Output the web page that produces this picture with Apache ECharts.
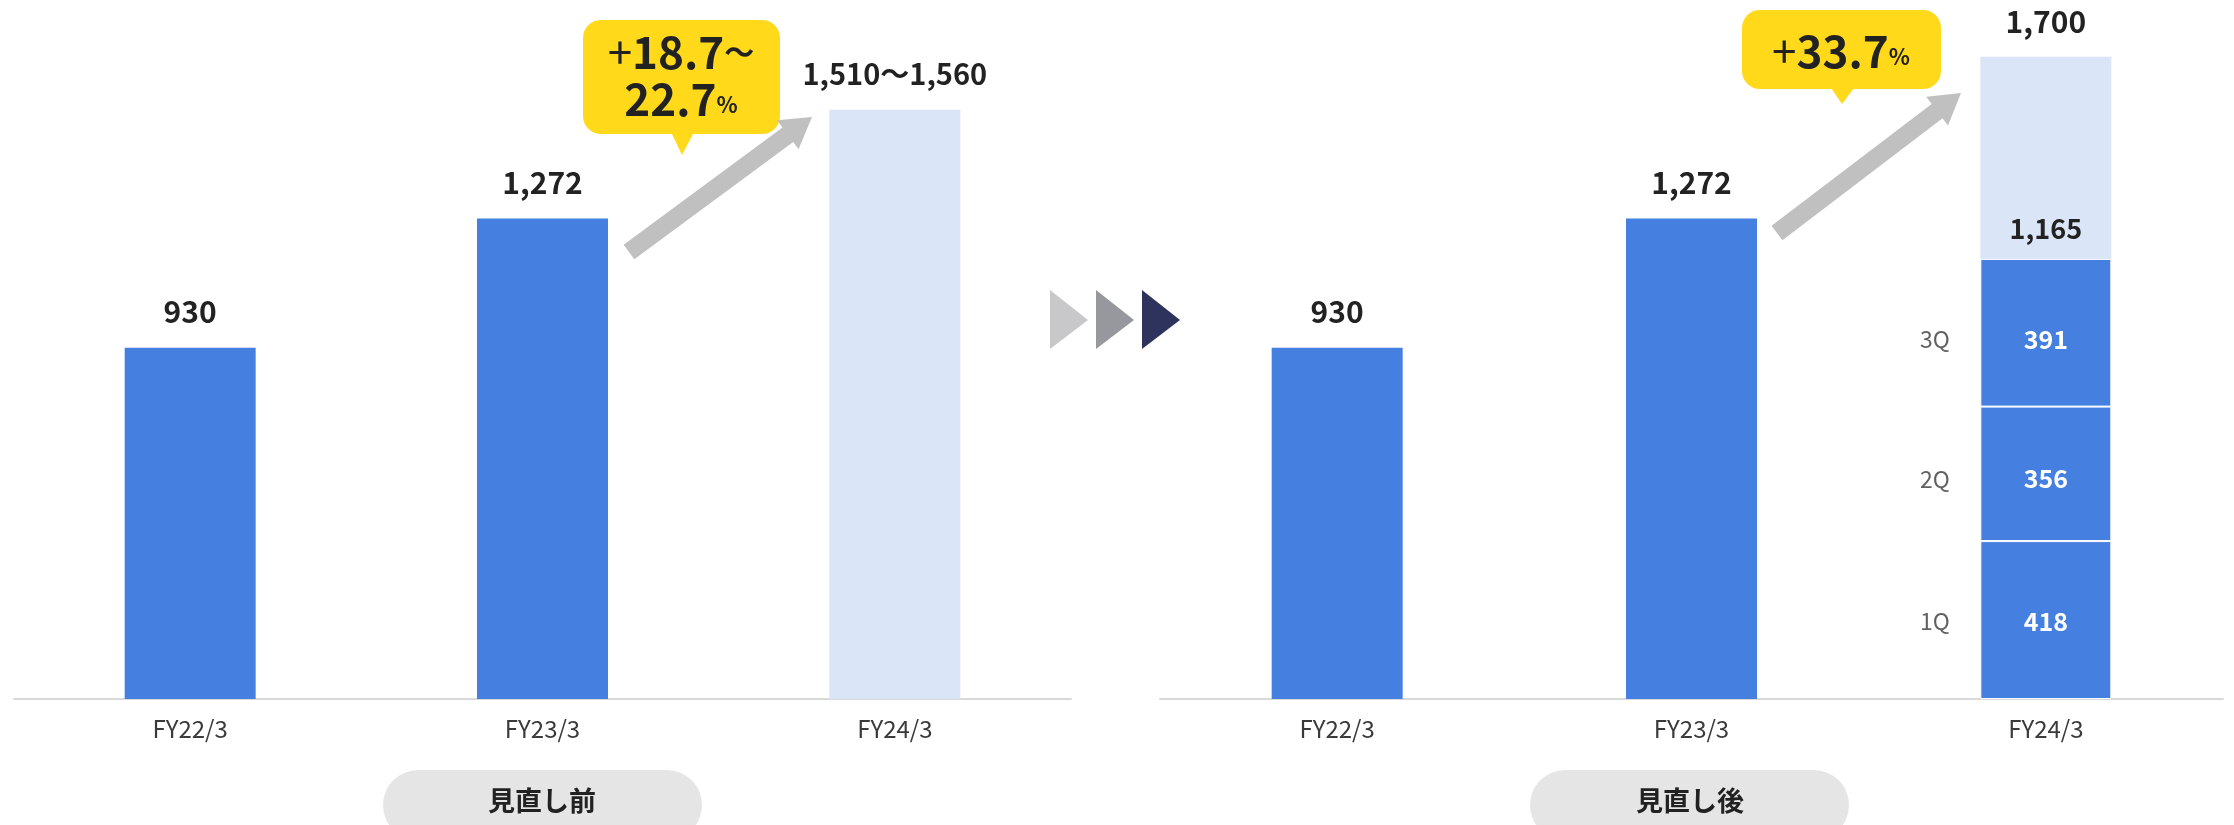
<!DOCTYPE html>
<html>
<head>
<meta charset="utf-8">
<script src="https://cdn.jsdelivr.net/npm/echarts@6/dist/echarts.min.js"></script>
<style>
html,body{margin:0;padding:0;background:#fff;}
#c{width:2234px;height:825px;}
</style>
</head>
<body>
<div id="c"></div>
<script>
// ---- data ----
const categories = ['FY22/3', 'FY23/3', 'FY24/3'];
const beforeActual = [930, 1272];
const beforeForecastLow = 1510;
const beforeForecastHigh = 1560;
const afterActual = [930, 1272];
const quarterNames = ['1Q', '2Q', '3Q'];
const quarterValues = [418, 356, 391];
const afterForecastTotal = 1700;
const growthBefore = ['+18.7', '22.7'];
const growthAfter = '+33.7';
const panelTitles = ['見直し前', '見直し後'];

const FONT = '"Noto Sans CJK JP", "Noto Sans", sans-serif';
const BLUE = '#457FE0';
const LIGHT = '#DAE5F7';
const fmt = v => v.toLocaleString('en-US');

const quarterSum = quarterValues.reduce((a, b) => a + b, 0);
const remainder = afterForecastTotal - quarterSum;

const chart = echarts.init(document.getElementById('c'), null, {renderer: 'canvas'});

const valueLabel = {
  show: true, position: 'top', distance: 21,
  fontFamily: FONT, fontSize: 30, fontWeight: 'bold', color: '#222'
};

function xAxis(idx) {
  return {
    type: 'category', gridIndex: idx, data: categories,
    axisLine: {lineStyle: {color: '#D9D9D9', width: 2}},
    axisTick: {show: false},
    axisLabel: {fontFamily: FONT, fontSize: 24, color: '#3a3a3a', margin: 18}
  };
}
function yAxis(idx) {
  return {type: 'value', gridIndex: idx, min: 0, max: 1800, show: false, splitLine: {show: false}};
}
const pad = n => Array(n).fill('-');

// cumulative centers for quarter labels
let cum = 0;
const qCenters = quarterValues.map(v => { const c = cum + v / 2; cum += v; return c; });
const qOffsetY = [1, 5, 7];

const series = [
  // left panel
  {type: 'bar', xAxisIndex: 0, yAxisIndex: 0, stack: 'L', barWidth: 131,
   data: beforeActual.concat(pad(1)), itemStyle: {color: BLUE},
   label: Object.assign({}, valueLabel, {formatter: p => fmt(p.value)})},
  {type: 'bar', xAxisIndex: 0, yAxisIndex: 0, stack: 'L', barWidth: 131,
   data: pad(2).concat([beforeForecastHigh]), itemStyle: {color: LIGHT},
   label: Object.assign({}, valueLabel, {fontSize: 29, distance: 21, formatter: () => fmt(beforeForecastLow) + '～' + fmt(beforeForecastHigh)})},
  // right panel
  {type: 'bar', xAxisIndex: 1, yAxisIndex: 1, stack: 'R', barWidth: 131,
   data: afterActual.concat(pad(1)), itemStyle: {color: BLUE},
   label: Object.assign({}, valueLabel, {formatter: p => fmt(p.value)})}
];
quarterValues.forEach((v, i) => {
  series.push({
    type: 'bar', xAxisIndex: 1, yAxisIndex: 1, stack: 'R', barWidth: 131,
    data: pad(2).concat([v]),
    itemStyle: {color: BLUE, borderColor: '#fff', borderWidth: 1},
    label: {show: true, position: 'inside', offset: [0, qOffsetY[i]], fontFamily: FONT, fontSize: 25, fontWeight: 'bold', color: '#fff',
            formatter: p => fmt(p.value)}
  });
});
series.push({
  type: 'bar', xAxisIndex: 1, yAxisIndex: 1, stack: 'R', barWidth: 131,
  data: pad(2).concat([0]), itemStyle: {color: LIGHT, borderWidth: 0},
  label: {show: true, position: 'top', distance: 17, fontFamily: FONT, fontSize: 27, fontWeight: 'bold', color: '#222',
          formatter: () => fmt(quarterSum)}
});
series.push({
  type: 'bar', xAxisIndex: 1, yAxisIndex: 1, stack: 'R', barWidth: 131,
  data: pad(2).concat([remainder]), itemStyle: {color: LIGHT},
  label: Object.assign({}, valueLabel, {distance: 20, formatter: () => fmt(afterForecastTotal)})
});
series.push({
  type: 'scatter', xAxisIndex: 1, yAxisIndex: 1, symbolSize: 0, silent: true,
  data: qCenters.map((c, i) => ({value: [2, c], name: quarterNames[i]})),
  label: {show: true, position: 'inside', fontFamily: FONT, fontSize: 23, color: '#3a3a3a',
          formatter: p => p.name},
  labelLayout: p => ({dx: -111, dy: qOffsetY[p.dataIndex]})
});

function arrow(tx, ty, hx, hy, fill) {
  const dx = hx - tx, dy = hy - ty, len = Math.hypot(dx, dy);
  const ux = dx / len, uy = dy / len, px = -uy, py = ux;
  const w = 9, L = 30, hw = 18;
  const bx = hx - ux * L, by = hy - uy * L;
  return {
    type: 'polygon', z: 10,
    shape: {points: [
      [tx + px * w, ty + py * w], [bx + px * w, by + py * w], [bx + px * hw, by + py * hw],
      [hx, hy], [bx - px * hw, by - py * hw], [bx - px * w, by - py * w], [tx - px * w, ty - py * w]
    ]},
    style: {fill: fill}
  };
}

const richBig = {fontFamily: FONT, fontSize: 44, fontWeight: 'bold', fill: '#222'};
const richPct = {fontFamily: FONT, fontSize: 22, fontWeight: 'bold', fill: '#222', padding: [12, 0, 0, 0]};
const richPlus = {fontFamily: FONT, fontSize: 44, fontWeight: 'normal', fill: '#222'};

const graphic = [
  // left callout
  {type: 'rect', z: 10, shape: {x: 583, y: 20, width: 197, height: 114, r: 18}, style: {fill: '#FFD91A'}},
  {type: 'polygon', z: 10, shape: {points: [[671, 132], [694, 132], [682, 155]]}, style: {fill: '#FFD91A'}},
  {type: 'text', z: 11, style: {x: 681, y: 52, text: '{p|+}{a|' + growthBefore[0].slice(1) + '}{t|～}', align: 'center', verticalAlign: 'middle',
    rich: {p: richPlus, a: richBig, t: {fontFamily: FONT, fontSize: 30, fontWeight: 'bold', fill: '#222'}}}},
  {type: 'text', z: 11, style: {x: 681, y: 99, text: '{a|' + growthBefore[1] + '}{b|%}', align: 'center', verticalAlign: 'middle',
    rich: {a: richBig, b: richPct}}},
  // right callout
  {type: 'rect', z: 10, shape: {x: 1742, y: 10, width: 199, height: 79, r: 18}, style: {fill: '#FFD91A'}},
  {type: 'polygon', z: 10, shape: {points: [[1831, 88], [1854, 88], [1842, 104]]}, style: {fill: '#FFD91A'}},
  {type: 'text', z: 11, style: {x: 1841, y: 51, text: '{p|+}{a|' + growthAfter.slice(1) + '}{b|%}', align: 'center', verticalAlign: 'middle',
    rich: {p: richPlus, a: richBig, b: richPct}}},
  // arrows
  arrow(629, 252, 812, 117, '#C0C0C0'),
  arrow(1777, 233, 1961, 93, '#C0C0C0'),
  // middle triangles
  {type: 'polygon', shape: {points: [[1050, 290], [1088, 320], [1050, 349]]}, style: {fill: '#C8C8CA'}},
  {type: 'polygon', shape: {points: [[1096, 290], [1134, 320], [1096, 349]]}, style: {fill: '#97989D'}},
  {type: 'polygon', shape: {points: [[1142, 290], [1180, 320], [1142, 349]]}, style: {fill: '#2E335E'}},
  // pills
  {type: 'rect', shape: {x: 383, y: 770, width: 319, height: 70, r: 35}, style: {fill: '#E5E5E5'}},
  {type: 'text', z: 11, style: {x: 542, y: 801, text: panelTitles[0], align: 'center', verticalAlign: 'middle',
    fontFamily: FONT, fontSize: 27, fontWeight: 'bold', fill: '#222'}},
  {type: 'rect', shape: {x: 1530, y: 770, width: 319, height: 70, r: 35}, style: {fill: '#E5E5E5'}},
  {type: 'text', z: 11, style: {x: 1690, y: 801, text: panelTitles[1], align: 'center', verticalAlign: 'middle',
    fontFamily: FONT, fontSize: 27, fontWeight: 'bold', fill: '#222'}}
];

chart.setOption({
  animation: false,
  backgroundColor: '#fff',
  grid: [
    {left: 14, width: 1057, top: 19, bottom: 126},
    {left: 1160, width: 1063, top: 19, bottom: 126}
  ],
  xAxis: [xAxis(0), xAxis(1)],
  yAxis: [yAxis(0), yAxis(1)],
  series: series,
  graphic: graphic
});
</script>
</body>
</html>
